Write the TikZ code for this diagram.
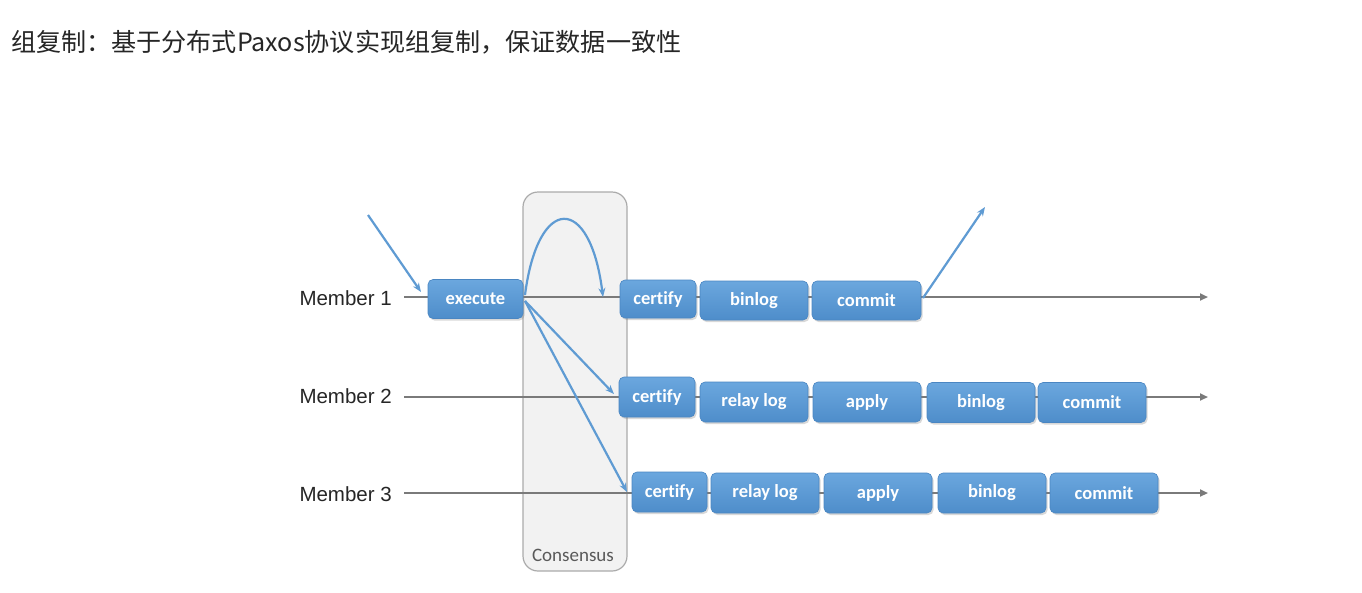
\documentclass[tikz,border=0pt]{standalone}
\usepackage{fontspec}
\newfontfamily\cjk{Noto Sans CJK SC}
\newfontfamily\carl[Ligatures=NoCommon]{Carlito}
\newfontfamily\lib{Liberation Sans}
\usetikzlibrary{arrows.meta,shadows}
\definecolor{boxblue}{HTML}{5B9BD5}
\definecolor{boxtop}{HTML}{6BA7DE}
\definecolor{boxbot}{HTML}{4E8DCA}
\definecolor{boxedge}{HTML}{4A86C2}
\definecolor{arrblue}{HTML}{5F9BD3}
\definecolor{linegray}{HTML}{7A7A7A}
\definecolor{consfill}{HTML}{F2F2F2}
\definecolor{consedge}{HTML}{ABABAB}
\tikzset{
  stepbox/.style={rectangle, rounded corners=5pt, draw=boxedge, line width=0.6pt,
    top color=boxtop, bottom color=boxbot, text=white,
    font=\carl\bfseries\fontsize{18.5}{18.5}\selectfont, inner sep=0pt,
    minimum height=39pt, drop shadow={opacity=0.3, shadow xshift=1.5pt, shadow yshift=-2pt}},
  memberlabel/.style={anchor=east, inner sep=0pt, text=black!85,
    font=\lib\fontsize{20.5}{20.5}\selectfont},
  timeline/.style={draw=linegray, line width=2.2pt, -{Triangle[length=8pt,width=7pt]}},
  msg/.style={draw=arrblue, line width=2.2pt, -{Stealth[length=9pt,width=7pt]}},
}
\begin{document}
\begin{tikzpicture}[x=1pt,y=-1pt]
\useasboundingbox (0,0) rectangle (1362,592);
\fill[white] (0,0) rectangle (1362,592);

% title
\node[anchor=west, inner sep=0pt, font=\cjk\fontsize{25.1}{25.1}\selectfont, text=black!85] (title) at (11,42)
  {组复制：基于分布式Paxos协议实现组复制，保证数据一致性};

% consensus box
\draw[fill=consfill, draw=consedge, line width=1.2pt, rounded corners=15pt] (523,192) rectangle (627,571);
\node[font=\carl\fontsize{19}{19}\selectfont, text=black!65, inner sep=0pt] (cons) at (573,555) {Consensus};

% member labels
\node[memberlabel] (m1) at (392,298) {Member 1};
\node[memberlabel] (m2) at (392,396) {Member 2};
\node[memberlabel] (m3) at (392,494) {Member 3};

% timelines
\coordinate (s1) at (404,297); \coordinate (e1) at (1208,297);
\coordinate (s2) at (404,397); \coordinate (e2) at (1208,397);
\coordinate (s3) at (404,493); \coordinate (e3) at (1208,493);
\draw[timeline] (s1) -- (e1);
\draw[timeline] (s2) -- (e2);
\draw[timeline] (s3) -- (e3);

% row 1
\node[stepbox, minimum width=95pt] (exec) at (475.5,299) {execute};
\node[stepbox, minimum width=76pt, minimum height=38pt] (cert1) at (658,299) {\raisebox{1pt}{certify}};
\node[stepbox, minimum width=108pt] (bin1) at (754,300.5) {binlog};
\node[stepbox, minimum width=109pt] (com1) at (866.5,300.5) {commit};

% row 2
\node[stepbox, minimum width=76pt, minimum height=40pt] (cert2) at (657,397) {\raisebox{1pt}{certify}};
\node[stepbox, minimum width=108pt, minimum height=40pt] (relay2) at (754,402) {relay log};
\node[stepbox, minimum width=108pt, minimum height=40pt] (apply2) at (867,402) {apply};
\node[stepbox, minimum width=108pt, minimum height=40pt] (bin2) at (981,402.5) {binlog};
\node[stepbox, minimum width=108pt, minimum height=40pt] (com2) at (1092,402.5) {commit};

% row 3
\node[stepbox, minimum width=75pt, minimum height=40pt] (cert3) at (669.5,492) {certify};
\node[stepbox, minimum width=108pt, minimum height=40pt] (relay3) at (765,493) {relay log};
\node[stepbox, minimum width=108pt, minimum height=40pt] (apply3) at (878,493) {apply};
\node[stepbox, minimum width=108pt, minimum height=40pt] (bin3) at (992,493) {binlog};
\node[stepbox, minimum width=108pt, minimum height=40pt] (com3) at (1104,493) {commit};

% message arrows
\coordinate (inS) at (368,215);
\coordinate (inE) at (421,292);
\draw[msg] (inS) -- (inE);

\coordinate (cS) at (525,295);
\coordinate (cE) at (603,297);
\draw[msg] (cS) .. controls (538,194) and (590,194) .. (cE);

\coordinate (xS) at (525,301);
\coordinate (t2) at (614,394);
\coordinate (t3) at (627,492);
\draw[msg] (xS) -- (t2);
\draw[msg] (xS) -- (t3);

\coordinate (oS) at (923,298);
\coordinate (oE) at (985,207);
\draw[msg] (oS) -- (oE);
\end{tikzpicture}
\end{document}
